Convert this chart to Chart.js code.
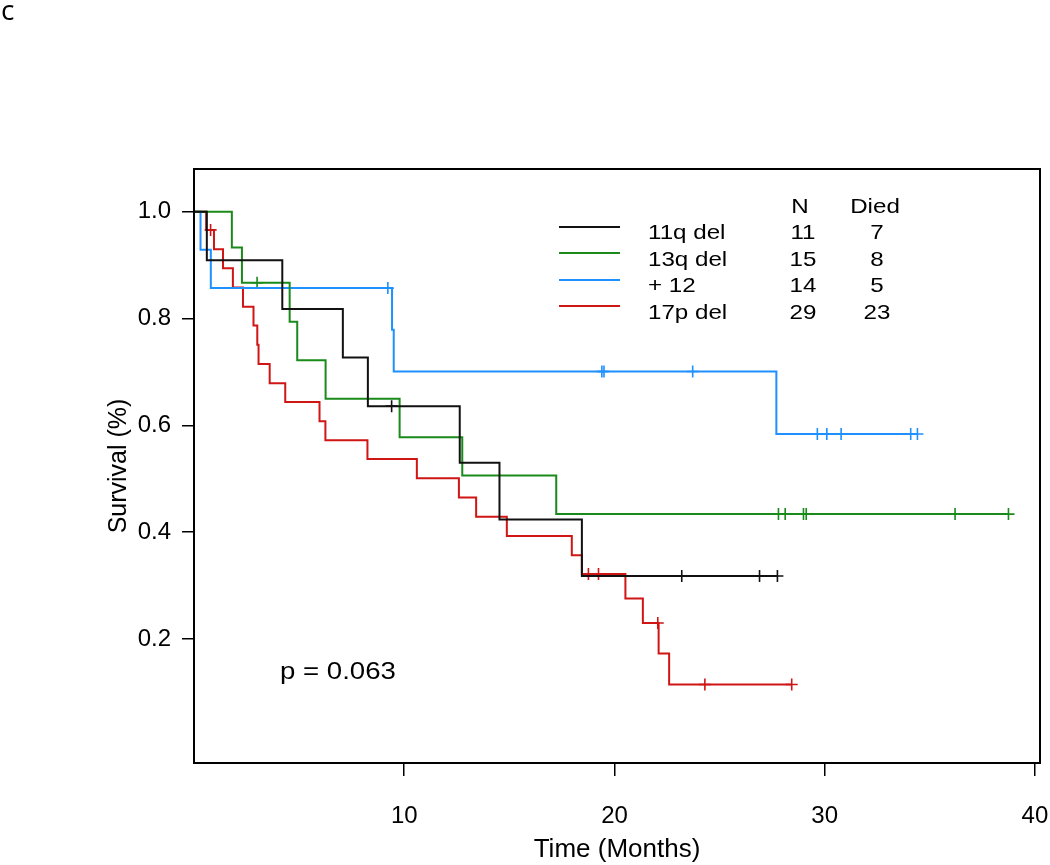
<!DOCTYPE html>
<html>
<head>
<meta charset="utf-8">
<script src="https://cdn.jsdelivr.net/npm/chart.js@4.4.0/dist/chart.umd.min.js"></script>
<style>
  body { margin: 0; background: #fff; }
  canvas { display: block; }
</style>
</head>
<body>
<canvas id="kmChart" width="1050" height="865"></canvas>
<script>
// step points (time, survival)
const q11Times = [0, 0.61, 4.20, 7.08, 8.27, 12.64, 14.53, 18.45, 27.75];
const q11Surv = [1.0, 0.909, 0.818, 0.727, 0.636, 0.530, 0.424, 0.318, 0.318];
const q11CensTimes = [9.40, 23.20, 26.90, 27.75];
const q11CensSurv = [0.636, 0.318, 0.318, 0.318];

const q13Times = [0, 1.80, 2.28, 4.55, 4.91, 6.26, 9.78, 12.76, 17.23, 38.74];
const q13Surv = [1.0, 0.933, 0.867, 0.794, 0.722, 0.650, 0.578, 0.506, 0.434, 0.434];
const q13CensTimes = [3.00, 27.80, 28.12, 28.99, 29.12, 36.20, 38.74];
const q13CensSurv = [0.867, 0.434, 0.434, 0.434, 0.434, 0.434, 0.434];

const tri12Times = [0, 0.31, 0.80, 9.42, 9.50, 27.70, 34.41];
const tri12Surv = [1.0, 0.929, 0.857, 0.779, 0.701, 0.584, 0.584];
const tri12CensTimes = [9.22, 19.40, 19.50, 23.72, 29.65, 30.10, 30.78, 34.09, 34.41];
const tri12CensSurv = [0.857, 0.701, 0.701, 0.701, 0.584, 0.584, 0.584, 0.584, 0.584];

const p17Times = [0, 0.58, 0.95, 1.38, 1.85, 2.33, 2.83, 3.01, 3.07, 3.60, 4.34, 5.97, 6.25, 8.25,
  10.60, 12.60, 13.42, 14.88, 17.97, 18.45, 20.52, 21.35, 22.10, 22.60, 28.43];
const p17Surv = [1.0, 0.966, 0.930, 0.894, 0.858, 0.822, 0.787, 0.751, 0.715, 0.679, 0.644, 0.608, 0.572, 0.537,
  0.501, 0.465, 0.429, 0.393, 0.357, 0.322, 0.276, 0.230, 0.173, 0.115, 0.115];
const p17CensTimes = [0.79, 18.76, 19.24, 22.06, 24.30, 28.43];
const p17CensSurv = [0.966, 0.322, 0.322, 0.230, 0.115, 0.115];

const groupNames = ["11q del", "13q del", "+ 12", "17p del"];
const groupN = [11, 15, 14, 29];
const groupDied = [7, 8, 5, 23];
const groupColors = ["#111111", "#1a8a1a", "#1e90ff", "#d01515"];

const xTickValues = [10, 20, 30, 40];
const yTickValues = [0.2, 0.4, 0.6, 0.8, 1.0];
const pValueText = "p = 0.063";

const FONT = "'Liberation Sans', Arial, sans-serif";

function pts(xs, ys) {
  return xs.map((x, i) => ({ x: x, y: ys[i] }));
}

function curve(xs, ys, color) {
  return {
    data: pts(xs, ys),
    borderColor: color,
    borderWidth: 2,
    stepped: true,
    pointRadius: 0,
    fill: false
  };
}

function censors(xs, ys, color) {
  return {
    data: pts(xs, ys),
    showLine: false,
    borderColor: color,
    backgroundColor: color,
    pointStyle: "cross",
    pointRadius: 6,
    pointBorderWidth: 1.6
  };
}

// text drawn a bit wider, like the source figure
function wideText(ctx, text, x, y, align, sx) {
  let w = ctx.measureText(text).width * sx;
  let x0 = x;
  if (align == "center") x0 = x - w / 2;
  if (align == "right") x0 = x - w;
  ctx.save();
  ctx.translate(x0, y);
  ctx.scale(sx, 1);
  ctx.textAlign = "left";
  ctx.fillText(text, 0, 0);
  ctx.restore();
}

const boxAndNotes = {
  id: "boxAndNotes",
  afterDraw(chart) {
    const ctx = chart.ctx;
    const a = chart.chartArea;
    ctx.save();
    ctx.strokeStyle = "#000";
    ctx.lineWidth = 2;
    ctx.strokeRect(a.left, a.top, a.right - a.left, a.bottom - a.top);

    // legend table
    ctx.fillStyle = "#000";
    ctx.font = "21px " + FONT;
    ctx.textBaseline = "alphabetic";
    wideText(ctx, "N", 800, 213, "center", 1.15);
    wideText(ctx, "Died", 875, 213, "center", 1.15);
    const lineY = [227, 253, 280, 306];
    const textY = [239, 266, 292, 319];
    for (let i = 0; i < groupNames.length; i++) {
      ctx.strokeStyle = groupColors[i];
      ctx.lineWidth = 2;
      ctx.beginPath();
      ctx.moveTo(559, lineY[i]);
      ctx.lineTo(620, lineY[i]);
      ctx.stroke();
      ctx.fillStyle = "#000";
      wideText(ctx, groupNames[i], 648, textY[i], "left", 1.15);
      wideText(ctx, String(groupN[i]), 803, textY[i], "center", 1.15);
      wideText(ctx, String(groupDied[i]), 877, textY[i], "center", 1.15);
    }

    ctx.font = "23px " + FONT;
    wideText(ctx, pValueText, 280, 679, "left", 1.2);

    ctx.font = "28px 'Open Sans', sans-serif";
    ctx.fillText("c", 1, 20);
    ctx.restore();
  }
};

const ctx = document.getElementById("kmChart").getContext("2d");
const kmChart = new Chart(ctx, {
  type: "line",
  data: {
    datasets: [
      curve(q11Times, q11Surv, groupColors[0]),
      curve(q13Times, q13Surv, groupColors[1]),
      curve(tri12Times, tri12Surv, groupColors[2]),
      curve(p17Times, p17Surv, groupColors[3]),
      censors(q11CensTimes, q11CensSurv, groupColors[0]),
      censors(q13CensTimes, q13CensSurv, groupColors[1]),
      censors(tri12CensTimes, tri12CensSurv, groupColors[2]),
      censors(p17CensTimes, p17CensSurv, groupColors[3])
    ]
  },
  options: {
    responsive: false,
    devicePixelRatio: 1,
    animation: false,
    layout: { padding: { left: 0, right: 10, top: 169, bottom: 0 } },
    plugins: {
      legend: { display: false },
      tooltip: { enabled: false }
    },
    scales: {
      x: {
        type: "linear",
        min: 0,
        max: 40.24,
        afterBuildTicks: (scale) => {
          scale.ticks = xTickValues.map((v) => ({ value: v }));
        },
        afterFit: (scale) => {
          scale.height = 102;
          scale.paddingLeft = 0;
          scale.paddingRight = 0;
        },
        grid: { drawOnChartArea: false, tickLength: 13, color: "#000", lineWidth: 1.5 },
        border: { display: true, color: "#000", width: 2 },
        ticks: {
          color: "#000",
          font: { family: FONT, size: 24 },
          padding: 26,
          maxRotation: 0,
          callback: (v) => String(v)
        },
        title: {
          display: true,
          text: "Time (Months)",
          color: "#000",
          font: { family: FONT, size: 26 },
          padding: { top: 0, bottom: 0 }
        }
      },
      y: {
        type: "linear",
        min: -0.032,
        max: 1.08,
        afterBuildTicks: (scale) => {
          scale.ticks = yTickValues.map((v) => ({ value: v }));
        },
        afterFit: (scale) => {
          scale.width = 194;
          scale.paddingTop = 0;
          scale.paddingBottom = 0;
        },
        grid: { drawOnChartArea: false, tickLength: 12, color: "#000", lineWidth: 1.5 },
        border: { display: true, color: "#000", width: 2 },
        ticks: {
          color: "#000",
          font: { family: FONT, size: 24 },
          padding: 11,
          callback: (v) => Number(v).toFixed(1)
        },
        title: {
          display: true,
          text: "Survival (%)",
          color: "#000",
          font: { family: FONT, size: 25 },
          padding: { top: 104, bottom: 0 }
        }
      }
    }
  },
  plugins: [boxAndNotes]
});
</script>
</body>
</html>
